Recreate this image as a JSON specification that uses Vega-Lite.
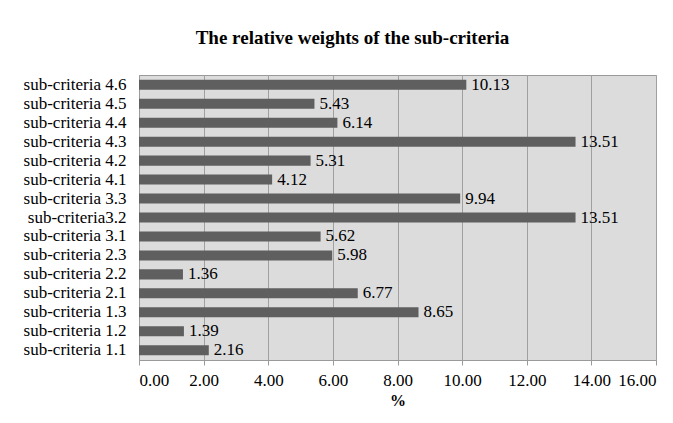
{
  "$schema": "https://vega.github.io/schema/vega-lite/v6.json",
  "autosize": "none",
  "width": 517,
  "height": 285,
  "padding": {"left": 139, "top": 75, "right": 17, "bottom": 63},
  "background": "white",
  "title": {
    "text": "The relative weights of the sub-criteria",
    "font": "Liberation Serif, Times New Roman, serif",
    "fontSize": 19,
    "fontWeight": "bold",
    "color": "black",
    "anchor": "middle",
    "dx": -45,
    "offset": 27
  },
  "config": {
    "view": {"fill": "#dcdcdc", "stroke": "#9a9a9a", "strokeWidth": 1},
    "font": "Liberation Serif, Times New Roman, serif"
  },
  "data": {
    "values": [
      {"name": "sub-criteria 4.6", "value": 10.13},
      {"name": "sub-criteria 4.5", "value": 5.43},
      {"name": "sub-criteria 4.4", "value": 6.14},
      {"name": "sub-criteria 4.3", "value": 13.51},
      {"name": "sub-criteria 4.2", "value": 5.31},
      {"name": "sub-criteria 4.1", "value": 4.12},
      {"name": "sub-criteria 3.3", "value": 9.94},
      {"name": "sub-criteria3.2", "value": 13.51},
      {"name": "sub-criteria 3.1", "value": 5.62},
      {"name": "sub-criteria 2.3", "value": 5.98},
      {"name": "sub-criteria 2.2", "value": 1.36},
      {"name": "sub-criteria 2.1", "value": 6.77},
      {"name": "sub-criteria 1.3", "value": 8.65},
      {"name": "sub-criteria 1.2", "value": 1.39},
      {"name": "sub-criteria 1.1", "value": 2.16}
    ]
  },
  "encoding": {
    "y": {
      "field": "name",
      "type": "nominal",
      "sort": null,
      "scale": {"paddingInner": 0.47, "paddingOuter": 0.25},
      "axis": {
        "title": null,
        "labelFont": "Liberation Serif, Times New Roman, serif",
        "labelFontSize": 17,
        "labelColor": "black",
        "labelPadding": 13,
        "ticks": false,
        "domainColor": "#9a9a9a",
        "grid": false
      }
    },
    "x": {
      "field": "value",
      "type": "quantitative",
      "scale": {"domain": [0, 16], "nice": false},
      "axis": {
        "values": [0, 2, 4, 6, 8, 10, 12, 14, 16],
        "format": ".2f",
        "title": "%",
        "titleFont": "Liberation Serif, Times New Roman, serif",
        "titleFontSize": 16,
        "titleFontWeight": "bold",
        "titleColor": "black",
        "titlePadding": 4,
        "labelFont": "Liberation Serif, Times New Roman, serif",
        "labelFontSize": 17,
        "labelColor": "black",
        "labelPadding": 7,
        "tickSize": 5,
        "tickColor": "#9a9a9a",
        "domainColor": "#9a9a9a",
        "grid": true,
        "gridColor": "#a0a0a0",
        "gridWidth": 1
      }
    }
  },
  "layer": [
    {"mark": {"type": "bar", "color": "#5f5f5f"}},
    {
      "mark": {"type": "text", "align": "left", "baseline": "middle", "dx": 5, "font": "Liberation Serif, Times New Roman, serif", "fontSize": 17, "color": "black"},
      "encoding": {"text": {"field": "value", "type": "quantitative", "format": ".2f"}}
    }
  ]
}
